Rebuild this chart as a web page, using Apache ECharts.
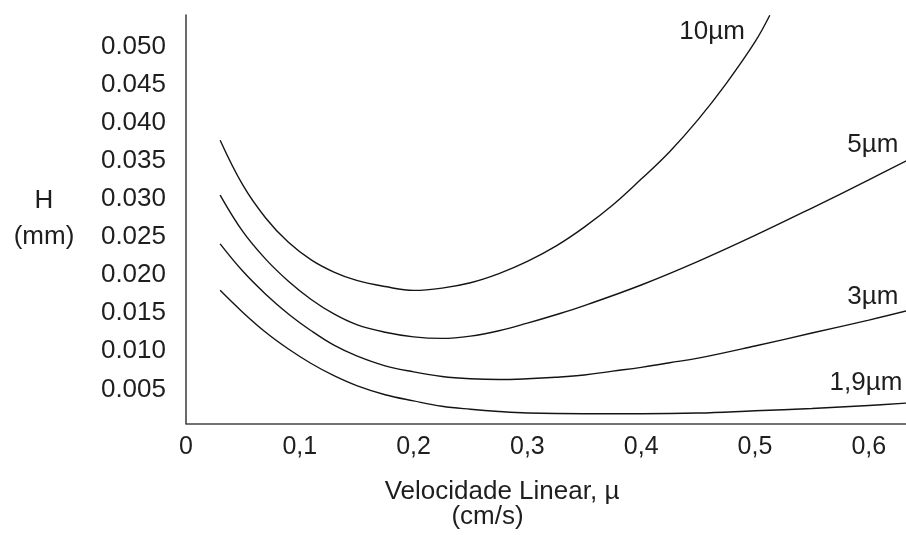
<!DOCTYPE html>
<html>
<head>
<meta charset="utf-8">
<script src="https://cdn.jsdelivr.net/npm/echarts@6/dist/echarts.min.js"></script>
<style>
  html, body { margin: 0; padding: 0; background: #ffffff; }
  #chart { width: 906px; height: 535px; }
</style>
</head>
<body>
<div id="chart"></div>
<script>
// Tick labels
const xTickValues = [0, 0.1, 0.2, 0.3, 0.4, 0.5, 0.6];
const yTickValues = [0.005, 0.010, 0.015, 0.020, 0.025, 0.030, 0.035, 0.040, 0.045, 0.050];

// Series names
const seriesNames = ['10µm', '5µm', '3µm', '1,9µm'];

// Velocity (cm/s) and H (mm) for each particle size
const v10 = [0.030, 0.050, 0.070, 0.090, 0.110, 0.130, 0.150, 0.175, 0.200, 0.225, 0.250, 0.275, 0.300, 0.325, 0.350, 0.375, 0.400, 0.425, 0.450, 0.475, 0.500, 0.513];
const h10 = [0.0377, 0.0318, 0.0275, 0.0243, 0.0220, 0.0204, 0.0193, 0.0185, 0.0180, 0.0183, 0.0190, 0.0202, 0.0218, 0.0238, 0.0263, 0.0292, 0.0326, 0.0362, 0.0404, 0.0452, 0.0506, 0.0541];

const v5 = [0.030, 0.050, 0.070, 0.090, 0.110, 0.130, 0.150, 0.175, 0.200, 0.225, 0.250, 0.275, 0.300, 0.325, 0.350, 0.400, 0.450, 0.500, 0.550, 0.600, 0.633];
const h5 = [0.0305, 0.0257, 0.0221, 0.0192, 0.0168, 0.0149, 0.0135, 0.0125, 0.0119, 0.0117, 0.0120, 0.0127, 0.0137, 0.0148, 0.0160, 0.0187, 0.0218, 0.0252, 0.0288, 0.0325, 0.0350];

const v3 = [0.030, 0.050, 0.070, 0.090, 0.110, 0.130, 0.150, 0.175, 0.200, 0.225, 0.250, 0.275, 0.300, 0.325, 0.350, 0.375, 0.400, 0.425, 0.450, 0.500, 0.550, 0.600, 0.633];
const h3 = [0.0241, 0.0205, 0.0175, 0.0149, 0.0127, 0.0108, 0.0094, 0.0081, 0.0073, 0.0067, 0.0064, 0.0063, 0.0064, 0.0066, 0.0069, 0.0074, 0.0079, 0.0085, 0.0091, 0.0107, 0.0124, 0.0141, 0.0153];

const v19 = [0.030, 0.050, 0.070, 0.090, 0.110, 0.130, 0.150, 0.175, 0.200, 0.225, 0.250, 0.275, 0.300, 0.350, 0.400, 0.450, 0.500, 0.550, 0.600, 0.633];
const h19 = [0.0180, 0.0151, 0.0125, 0.0103, 0.0084, 0.0068, 0.0055, 0.0043, 0.0035, 0.0028, 0.0024, 0.0021, 0.0019, 0.0018, 0.0018, 0.0019, 0.0022, 0.0025, 0.0029, 0.0032];

const seriesX = [v10, v5, v3, v19];
const seriesY = [h10, h5, h3, h19];
const labelOffsets = [[-25, 17], [-8, -16], [-8, -14], [-4, -20]];

const FONT = '"Liberation Sans", Arial, sans-serif';
const TEXT = '#1e1e1e';

const chart = echarts.init(document.getElementById('chart'), null, { renderer: 'canvas' });

const series = seriesNames.map((name, i) => ({
  name: name,
  type: 'line',
  data: seriesX[i].map((x, k) => [x, seriesY[i][k]]),
  smooth: 0.4,
  showSymbol: false,
  symbol: 'none',
  clip: false,
  lineStyle: { color: '#141414', width: 1.4 },
  endLabel: {
    show: true,
    formatter: '{a}',
    distance: 0,
    align: 'right',
    verticalAlign: 'middle',
    offset: labelOffsets[i],
    fontFamily: FONT,
    fontSize: 26,
    color: TEXT
  },
  emphasis: { disabled: true }
}));

chart.setOption({
  animation: false,
  backgroundColor: '#ffffff',
  grid: { left: 186, right: 0, top: 15, bottom: 104 },
  xAxis: {
    type: 'value',
    min: 0,
    max: 0.6327,
    name: 'Velocidade Linear, µ\n(cm/s)    ',
    nameLocation: 'middle',
    nameGap: 56,
    nameTextStyle: {
      fontFamily: FONT, fontSize: 26, color: TEXT, lineHeight: 25,
      align: 'center', verticalAlign: 'top', padding: [0, 88, 0, 0]
    },
    axisLine: { show: true, lineStyle: { color: '#444444', width: 1.6 } },
    axisTick: { show: false },
    splitLine: { show: false },
    axisLabel: {
      customValues: xTickValues,
      formatter: v => (v === 0 ? '0' : v.toFixed(1).replace('.', ',')),
      fontFamily: FONT, fontSize: 25, color: TEXT, margin: 11
    }
  },
  yAxis: {
    type: 'value',
    min: 0.00053,
    max: 0.05413,
    name: 'H\n(mm)',
    nameLocation: 'middle',
    nameRotate: 0,
    nameGap: 142,
    nameTextStyle: {
      fontFamily: FONT, fontSize: 26, color: TEXT, lineHeight: 36,
      align: 'center', verticalAlign: 'middle', padding: [0, 0, 0, 0]
    },
    axisLine: { show: true, lineStyle: { color: '#444444', width: 1.6 } },
    axisTick: { show: false },
    splitLine: { show: false },
    axisLabel: {
      customValues: yTickValues,
      formatter: v => v.toFixed(3),
      fontFamily: FONT, fontSize: 26, color: TEXT, margin: 20
    }
  },
  series: series
});
</script>
</body>
</html>
